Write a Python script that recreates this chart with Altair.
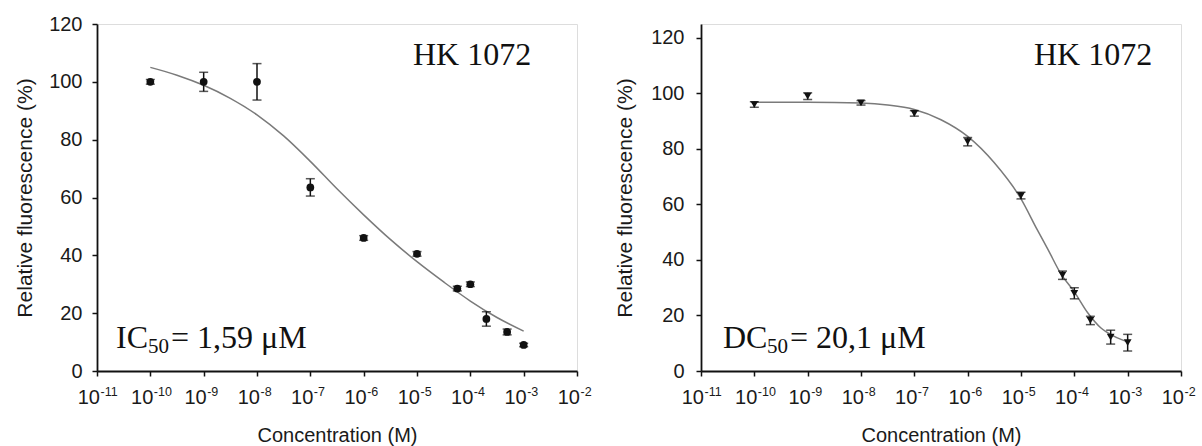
import altair as alt
import pandas as pd

# ---------------- data ----------------
x_tick_values = [1e-11, 1e-10, 1e-9, 1e-8, 1e-7, 1e-6, 1e-5, 1e-4, 1e-3, 1e-2]
x_tick_base = ["10"] * 10
x_tick_exps = ["-11", "-10", "-9", "-8", "-7", "-6", "-5", "-4", "-3", "-2"]
y_tick_values = [0, 20, 40, 60, 80, 100, 120]

# Left panel: IC50
ic_conc = [1e-10, 1e-9, 1e-8, 1e-7, 1e-6, 1e-5, 5.7e-5, 1e-4, 2e-4, 4.9e-4, 1e-3]
ic_resp = [100, 100, 100, 63.5, 46, 40.5, 28.5, 30, 18, 13.5, 9]
ic_err = [0.8, 3.3, 6.3, 3.0, 0.8, 0.8, 0.8, 0.8, 2.5, 1.0, 0.6]
ic_curve_conc = [1e-10, 3.16e-10, 1e-9, 3.16e-9, 1e-8, 3.16e-8, 1e-7, 3.16e-7,
                 1e-6, 3.16e-6, 1e-5, 3.16e-5, 1e-4, 3.16e-4, 1e-3]
ic_curve_resp = [105.0, 102.3, 98.8, 94.3, 88.6, 81.3, 72.5, 63.0,
                 54.0, 45.5, 37.8, 30.8, 24.2, 18.5, 13.8]

# Right panel: DC50
dc_conc = [1e-10, 1e-9, 1e-8, 1e-7, 1e-6, 1e-5, 6e-5, 1e-4, 2e-4, 4.8e-4, 1e-3]
dc_resp = [96.0, 99.0, 96.6, 92.8, 82.6, 63.2, 34.5, 28.0, 18.2, 12.2, 10.2]
dc_err = [1.0, 1.2, 0.8, 1.0, 1.5, 1.2, 1.5, 2.0, 1.5, 2.5, 3.0]
dc_curve_conc = [1e-10, 1e-9, 1e-8, 3.16e-8, 1e-7, 3.16e-7, 1e-6, 3.16e-6,
                 1e-5, 2e-5, 3.16e-5, 5.6e-5, 1e-4, 1.78e-4, 3.16e-4, 5.6e-4, 1e-3]
dc_curve_resp = [96.8, 96.8, 96.5, 95.8, 94.2, 90.5, 84.5, 75.0,
                 62.0, 51.0, 44.0, 35.0, 28.5, 21.0, 15.5, 12.5, 10.5]

# ---------------- styling ----------------
SANS = "Liberation Sans"
SERIF = "Liberation Serif"
TXT = "#1a1a1a"
PW, PH = 480, 347


def panel(conc, resp, err, cconc, cresp, ymax, shape, label_pad, ytitle_x,
          prefix, value_text):
    pts = pd.DataFrame({"conc": conc, "resp": resp,
                        "lo": [r - e for r, e in zip(resp, err)],
                        "hi": [r + e for r, e in zip(resp, err)]})
    crv = pd.DataFrame({"conc": cconc, "resp": cresp})
    ticks = pd.DataFrame({"conc": x_tick_values, "base": x_tick_base, "exp": x_tick_exps})

    xenc = alt.X("conc:Q",
                 scale=alt.Scale(type="log", domain=[1e-11, 1e-2], nice=False),
                 axis=alt.Axis(values=x_tick_values, labels=False,
                               title="Concentration (M)", grid=False,
                               tickSize=5, tickColor="#111",
                               tickWidth=1.5, domainColor="#111", domainWidth=1.8,
                               titleFont=SANS, titleFontSize=20, titleFontWeight="normal",
                               titleColor=TXT, titleY=64, titleBaseline="middle"))
    yscale = alt.Scale(domain=[0, ymax], nice=False)
    yaxis = alt.Axis(values=y_tick_values, grid=False, title="Relative fluorescence (%)",
                     labelFont=SANS, labelFontSize=20, labelColor=TXT,
                     labelPadding=label_pad, tickSize=5, tickColor="#111", tickWidth=1.5,
                     domainColor="#111", domainWidth=1.8,
                     titleFont=SANS, titleFontSize=21, titleFontWeight="normal",
                     titleColor=TXT, titleX=ytitle_x, titleY=PH / 2,
                     titleAngle=270, titleAlign="center", titleBaseline="middle")

    curve = alt.Chart(crv).mark_line(color="#7a7a7a", strokeWidth=1.5,
                                     interpolate="monotone").encode(
        x=xenc, y=alt.Y("resp:Q", scale=yscale, axis=yaxis))
    bars = alt.Chart(pts).mark_rule(color="#111", strokeWidth=1.5).encode(
        x="conc:Q", y="lo:Q", y2="hi:Q")
    cap_lo = alt.Chart(pts).mark_tick(orient="horizontal", size=9, thickness=1.5,
                                      color="#111").encode(x="conc:Q", y="lo:Q")
    cap_hi = alt.Chart(pts).mark_tick(orient="horizontal", size=9, thickness=1.5,
                                      color="#111").encode(x="conc:Q", y="hi:Q")
    points = alt.Chart(pts).mark_point(shape=shape, filled=True, size=60,
                                       color="#111", opacity=1).encode(
        x="conc:Q", y="resp:Q")

    # x tick labels: "10" with a raised, smaller exponent
    base_lbl = alt.Chart(ticks).mark_text(
        font=SANS, fontSize=20, color=TXT, align="right", baseline="alphabetic", dx=3
    ).encode(x="conc:Q", y=alt.value(PH + 33), text="base:N")
    exp_lbl = alt.Chart(ticks).mark_text(
        font=SANS, fontSize=12.5, color=TXT, align="left", baseline="alphabetic", dx=3.5
    ).encode(x="conc:Q", y=alt.value(PH + 25), text="exp:N")

    hk = alt.Chart(pd.DataFrame({"t": ["HK 1072"]})).mark_text(
        font=SERIF, fontSize=32, color="#111", align="left", baseline="alphabetic"
    ).encode(x=alt.value(316 if prefix == "IC" else 333), y=alt.value(41), text="t:N")
    pre_x = 19 if prefix == "IC" else 22
    pre = alt.Chart(pd.DataFrame({"t": [prefix]})).mark_text(
        font=SERIF, fontSize=32, color="#111", align="left", baseline="alphabetic"
    ).encode(x=alt.value(pre_x), y=alt.value(324), text="t:N")
    sub_x = pre_x + (32 if prefix == "IC" else 44)
    sub = alt.Chart(pd.DataFrame({"t": ["50"]})).mark_text(
        font=SERIF, fontSize=21, color="#111", align="left", baseline="alphabetic"
    ).encode(x=alt.value(sub_x), y=alt.value(329), text="t:N")
    rest = alt.Chart(pd.DataFrame({"t": [value_text]})).mark_text(
        font=SERIF, fontSize=32, color="#111", align="left", baseline="alphabetic"
    ).encode(x=alt.value(sub_x + 23), y=alt.value(324), text="t:N")

    return alt.layer(curve, bars, cap_lo, cap_hi, points, base_lbl, exp_lbl,
                     hk, pre, sub, rest).properties(width=PW, height=PH)


left = panel(ic_conc, ic_resp, ic_err, ic_curve_conc, ic_curve_resp, 120,
             "circle", 10, -72, "IC", "= 1,59 μM")
right = panel(dc_conc, dc_resp, dc_err, dc_curve_conc, dc_curve_resp, 125,
              "triangle-down", 12, -76, "DC", "= 20,1 μM")

chart = alt.hconcat(left, right, spacing=124, bounds="flush").properties(
    padding={"left": 13, "top": 13, "right": 0, "bottom": 0},
).configure_view(stroke="#444", strokeWidth=1.5).configure(background="white")

chart.save("out.html", embed_options={"renderer": "svg", "actions": False})
